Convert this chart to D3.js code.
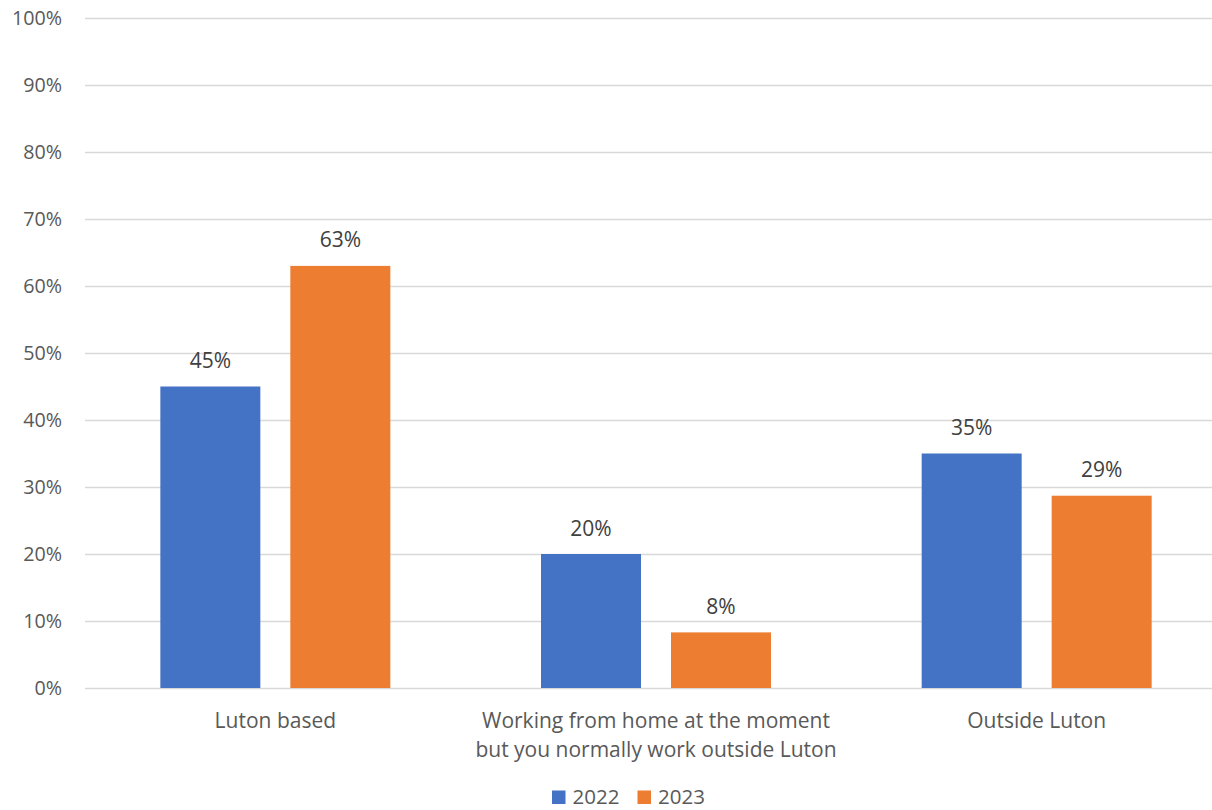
<!DOCTYPE html>
<html>
<head>
<meta charset="utf-8">
<script src="https://cdn.jsdelivr.net/npm/d3@7/dist/d3.min.js"></script>
<style>
html,body{margin:0;padding:0;background:#fff;}
svg{display:block;font-family:"Open Sans",Lato,sans-serif;}
</style>
</head>
<body>
<svg id="chart" width="1212" height="810"></svg>
<script>
const categories = [
  ["Luton based"],
  ["Working from home at the moment", "but you normally work outside Luton"],
  ["Outside Luton"]
];
const seriesNames = ["2022", "2023"];
const values2022 = [45.0, 20.0, 35.0];
const values2023 = [63.0, 8.3, 28.7];
const yTicks = [0, 10, 20, 30, 40, 50, 60, 70, 80, 90, 100];
const colors = ["#4472C4", "#ED7D31"];

const series = [values2022, values2023];
const svg = d3.select("#chart");
const pLeft = 85, pRight = 1227, pTop = 18, pBottom = 688;

const y = d3.scaleLinear().domain([0, 100]).range([pBottom, pTop]);
const x0 = d3.scaleBand().domain(d3.range(categories.length)).range([pLeft, pRight]).paddingInner(0).paddingOuter(0);
const bw = x0.bandwidth();
const barW = bw / 3.807; // gap width 150%, overlap -30%
const groupOffset = (bw - barW * 2.3) / 2;

// gridlines
const yAxis = d3.axisLeft(y).tickValues(yTicks).tickSize(-(pRight - pLeft)).tickFormat(d => d + "%").tickPadding(23);
const gAxis = svg.append("g").attr("transform", `translate(${pLeft},0)`).call(yAxis);
gAxis.select(".domain").remove();
gAxis.selectAll(".tick line").attr("stroke", "#D9D9D9").attr("stroke-width", 1.3);
gAxis.selectAll(".tick text").attr("fill", "#595959").attr("font-size", "19.7px").attr("dy", "0.35em")
  .attr("font-family", "Open Sans");

// bars
series.forEach((vals, si) => {
  svg.append("g").selectAll("rect").data(vals).join("rect")
    .attr("x", (d, i) => x0(i) + groupOffset + si * barW * 1.3)
    .attr("width", barW)
    .attr("y", d => y(d))
    .attr("height", d => y(0) - y(d))
    .attr("fill", colors[si]);
  svg.append("g").selectAll("text").data(vals).join("text")
    .attr("x", (d, i) => x0(i) + groupOffset + si * barW * 1.3 + barW / 2)
    .attr("y", d => y(d) - 18.5)
    .attr("text-anchor", "middle")
    .attr("fill", "#404040")
    .attr("font-size", "21px")
    .text(d => Math.round(d) + "%");
});

// category labels
const catG = svg.append("g");
categories.forEach((lines, i) => {
  const t = catG.append("text")
    .attr("x", x0(i) + bw / 2)
    .attr("y", 727.5)
    .attr("text-anchor", "middle")
    .attr("fill", "#595959")
    .attr("font-size", "21px");
  lines.forEach((ln, j) => {
    t.append("tspan").attr("x", x0(i) + bw / 2).attr("y", 727.5 + j * 29).text(ln);
  });
});

// legend
const legend = svg.append("g");
const legX = [552, 637.5];
seriesNames.forEach((name, i) => {
  legend.append("rect").attr("x", legX[i]).attr("y", 790.5).attr("width", 13.5).attr("height", 13.5).attr("fill", colors[i]);
  legend.append("text").attr("x", legX[i] + 20.5).attr("y", 803.5).attr("fill", "#595959")
    .attr("font-size", "20.5px").text(name);
});
</script>
</body>
</html>
